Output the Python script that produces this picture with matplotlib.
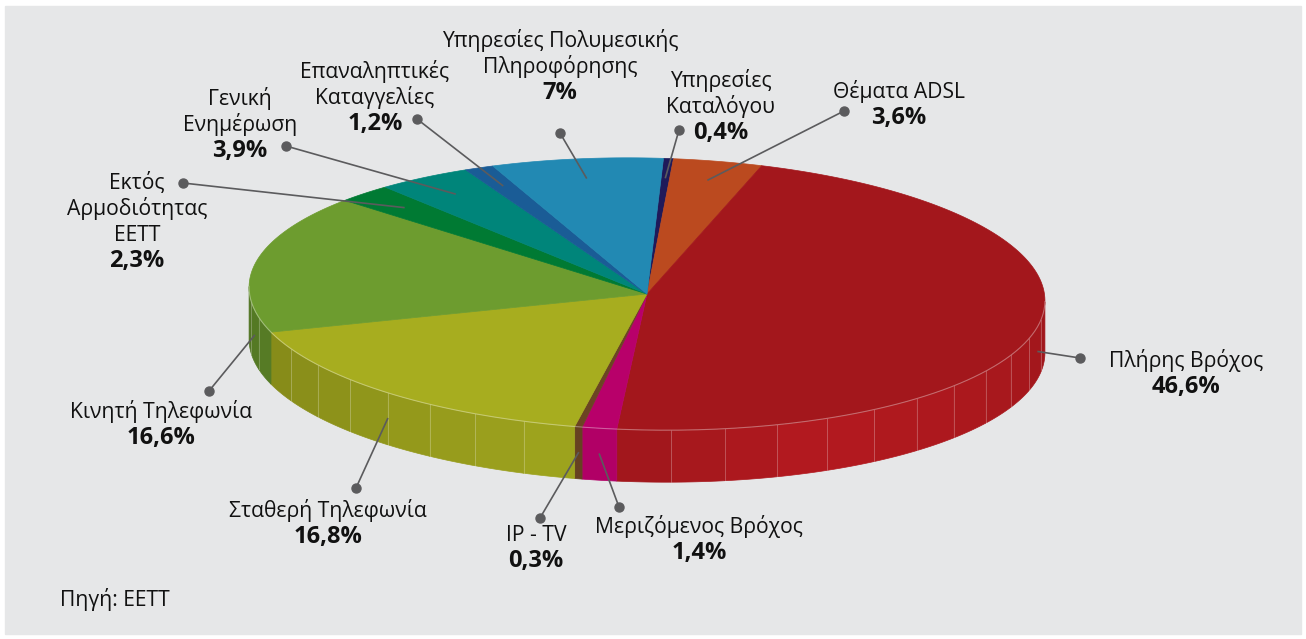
import numpy as np
import matplotlib.pyplot as plt
import matplotlib.colors as mcolors
from matplotlib.patches import Polygon, Rectangle

plt.rcParams['font.family'] = ['Open Sans', 'DejaVu Sans']

# datos (porcentajes, en el orden del gráfico, sentido horario desde arriba)
nombres = [
    ['Υπηρεσίες', 'Καταλόγου'],
    ['Θέματα ADSL'],
    ['Πλήρης Βρόχος'],
    ['Μεριζόμενος Βρόχος'],
    ['IP - TV'],
    ['Σταθερή Τηλεφωνία'],
    ['Κινητή Τηλεφωνία'],
    ['Εκτός', 'Αρμοδιότητας', 'ΕΕΤΤ'],
    ['Γενική', 'Ενημέρωση'],
    ['Επαναληπτικές', 'Καταγγελίες'],
    ['Υπηρεσίες Πολυμεσικής', 'Πληροφόρησης'],
]
valores = [0.4, 3.6, 46.6, 1.4, 0.3, 16.8, 16.6, 2.3, 3.9, 1.2, 7.0]
colores = ['#1f1a5a', '#bb4a1f', '#a3171c', '#b8006a', '#6b4423', '#a7ad1f',
           '#6d9c2f', '#007a33', '#00857a', '#1a5c96', '#2289b3']

# posición de cada etiqueta: centro x, línea base de la primera línea, punto
pos_etiquetas = [
    (721, 87, (679, 130)),
    (899, 98, (844, 111)),
    (1186, 367, (1080, 358)),
    (699, 533, (619, 507)),
    (536, 541, (540, 518)),
    (328, 517, (356, 488)),
    (161, 418, (209, 391)),
    (137, 189, (183, 183)),
    (240, 105, (286, 146)),
    (375, 78, (417, 119)),
    (560, 47, (560, 133)),
]

# geometría del pastel 3D (en píxeles)
CX, CY, RX, RY, PROF = 647, 294, 398, 136, 52
INCL = np.radians(1.1)
T0 = 88
GAP = 26


def punto(t, r=1.0, dz=0.0):
    t = np.radians(t)
    dx = r * RX * np.cos(t)
    dy = -r * RY * np.sin(t)
    x = CX + dx * np.cos(INCL) - dy * np.sin(INCL)
    y = CY + dx * np.sin(INCL) + dy * np.cos(INCL) + dz
    return x, y


def sombra(color, t):
    f = np.interp(t, [-180, -100, -64, 0], [0.75, 0.95, 1.1, 0.98])
    rgb = np.array(mcolors.to_rgb(color))
    return tuple(np.clip(rgb * f, 0, 1))


fig = plt.figure(figsize=(13.06, 6.39), dpi=100, facecolor='white')
ax = fig.add_axes([0, 0, 1, 1])
ax.set_xlim(0, 1306)
ax.set_ylim(639, 0)
ax.axis('off')
ax.add_patch(Rectangle((5, 6), 1296, 628, color='#e6e7e8', zorder=0))

total = sum(valores)
cum = np.concatenate([[0], np.cumsum(valores)])
inicios = T0 - 360 * cum[:-1] / total
finales = T0 - 360 * cum[1:] / total

# paredes laterales (solo la mitad frontal)
for a0, a1, c in zip(inicios, finales, colores):
    hi, lo = min(a0, 0), max(a1, -180)
    if hi <= lo:
        continue
    n = max(1, int(np.ceil((hi - lo) / 8)))
    bordes = np.linspace(hi, lo, n + 1)
    for b0, b1 in zip(bordes[:-1], bordes[1:]):
        ts = np.linspace(b0, b1, 12)
        sup = [punto(t) for t in ts]
        inf = [punto(t, dz=PROF) for t in ts[::-1]]
        col = sombra(c, (b0 + b1) / 2)
        ax.add_patch(Polygon(sup + inf, closed=True, facecolor=col,
                             edgecolor=col, lw=0.5, zorder=2))
    for b in bordes[1:-1]:
        (x0, y0), (x1, y1) = punto(b), punto(b, dz=PROF)
        ax.plot([x0, x1], [y0, y1], color='white', alpha=0.25, lw=0.7, zorder=3)

# cara superior
for a0, a1, c in zip(inicios, finales, colores):
    ts = np.linspace(a0, a1, max(3, int(abs(a0 - a1)) + 2))
    pts = [(CX, CY)] + [punto(t) for t in ts]
    ax.add_patch(Polygon(pts, closed=True, facecolor=c, edgecolor=c, lw=0.5, zorder=4))

ts = np.linspace(-180, 0, 200)
borde = np.array([punto(t) for t in ts])
ax.plot(borde[:, 0], borde[:, 1], color='white', alpha=0.35, lw=0.8, zorder=5)

# etiquetas con líneas guía
for a0, a1, nom, v, (xc, yb, dot) in zip(inicios, finales, nombres, valores, pos_etiquetas):
    mid = (a0 + a1) / 2
    hi, lo = min(a0, 0), max(a1, -180)
    if -180 < mid < 0:
        ancla = punto(mid, dz=PROF / 2)
    elif hi > lo:
        ancla = punto((hi + lo) / 2, dz=PROF / 2)
    else:
        ancla = punto(mid, r=0.86)
    ax.plot([ancla[0], dot[0]], [ancla[1], dot[1]], color='#5b5b5d', lw=1.2, zorder=6)
    ax.plot(dot[0], dot[1], 'o', color='#5b5b5d', ms=6.5, zorder=6)
    for k, linea in enumerate(nom):
        ax.text(xc, yb + k * GAP, linea, ha='center', va='baseline', fontsize=15.2,
                color='#111111', zorder=7)
    pct = f'{v:g}'.replace('.', ',') + '%'
    ax.text(xc, yb + len(nom) * GAP, pct, ha='center', va='baseline', fontsize=17,
            fontweight='bold', color='#111111', zorder=7)

ax.text(60, 606, 'Πηγή: ΕΕΤΤ', ha='left', va='baseline', fontsize=15.2, color='#111111')

plt.savefig('out.png', dpi=100, facecolor='white')
